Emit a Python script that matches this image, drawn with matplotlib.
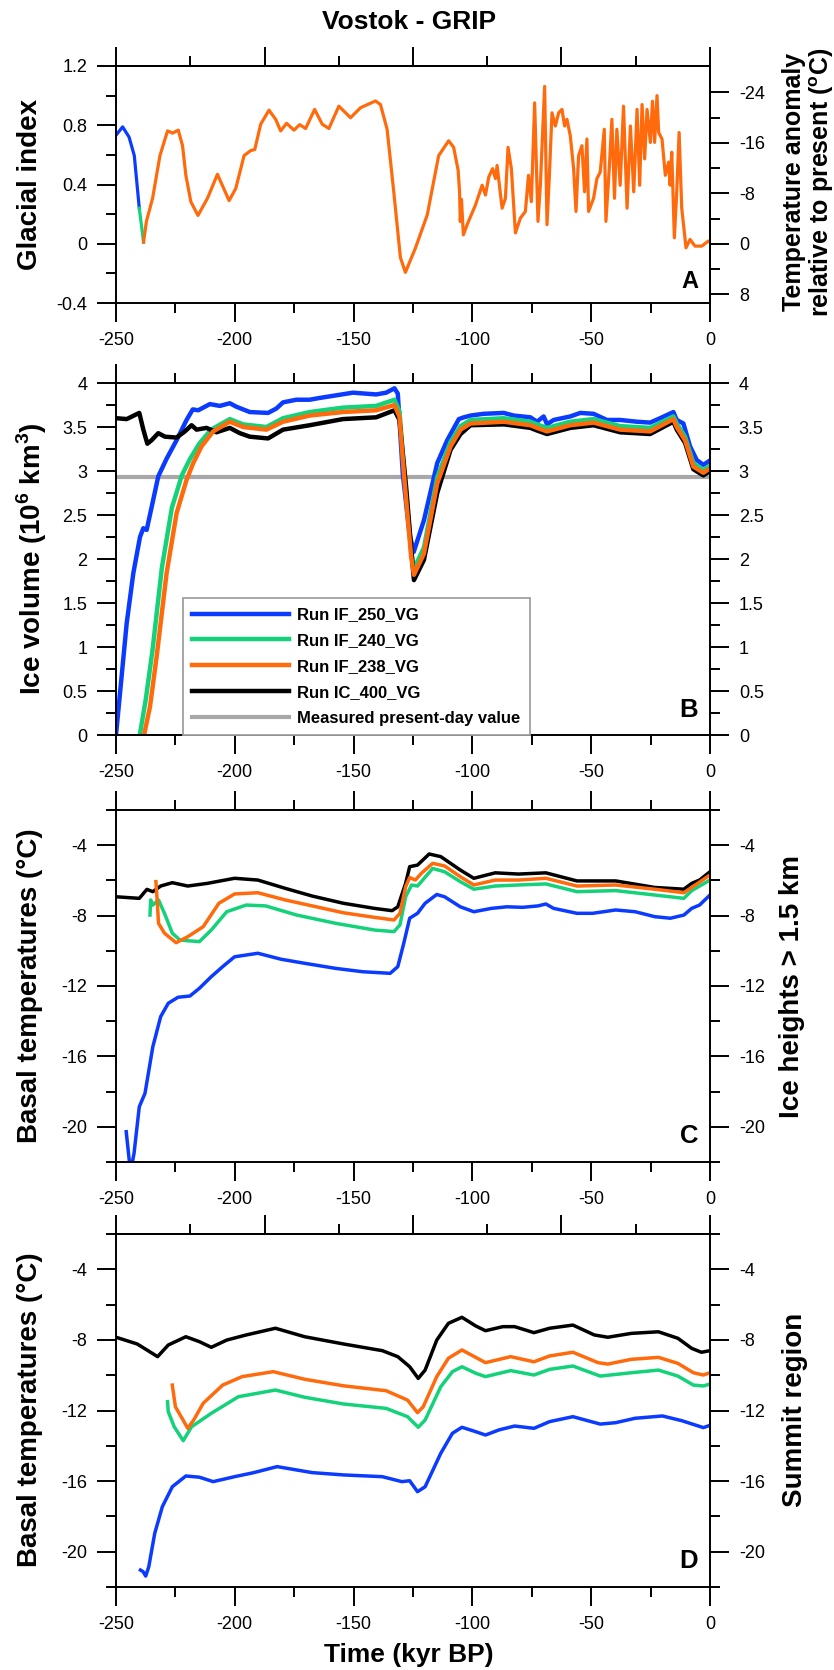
import matplotlib
matplotlib.use('Agg')
import matplotlib.pyplot as plt
import numpy as np
from matplotlib.ticker import FuncFormatter, NullFormatter

plt.rcParams['font.family'] = ['Liberation Sans', 'DejaVu Sans']
plt.rcParams['axes.unicode_minus'] = False
plt.rcParams['mathtext.fontset'] = 'custom'
plt.rcParams['mathtext.rm'] = 'Liberation Sans'
plt.rcParams['mathtext.bf'] = 'Liberation Sans:bold'

# ---------------- data ----------------
x_major = [-250, -200, -150, -100, -50, 0]
x_minor = [-225, -175, -125, -75, -25]
odd_top_major = [-250, -187.5, -125, -62.5, 0]
odd_top_minor = [-218.75, -156.25, -93.75, -31.25]

# Panel A: glacial index
A_t = [-250, -247.2, -244.5, -242.3, -240.2, -238.4, -237.2, -234.6, -231.5, -228.3, -226.2, -223.8, -222.0,
       -220.6, -218.5, -215.5, -211.5, -207.3, -202.4, -199.6, -196.1, -193.3, -191.6, -189.1, -185.6, -182.8,
       -180.7, -178.2, -175.1, -172.7, -170.2, -166.4, -163.2, -160.4, -156.2, -151.3, -147.1, -140.8, -138.7,
       -135.9, -133.1, -130.3, -128.2, -124.0, -119.0, -114.2, -110.0, -107.9, -106.0, -105.4, -105.1,
       -104.6, -103.8, -102.2, -98.7, -95.9, -94.5, -93.1, -91.5, -90.3, -89.6, -87.5, -86.1, -85.0,
       -83.6, -81.9, -79.8, -77.7, -76.4, -75.2, -73.8, -72.4, -71.4, -69.6, -68.6, -67.6, -66.5, -65.1,
       -63.7, -62.3, -61.2, -60.2, -58.8, -57.4, -56.4, -55.3, -53.9, -52.8, -51.8, -51.1, -49.0, -47.6,
       -46.2, -44.5, -43.8, -42.4, -41.3, -40.2, -39.2, -37.8, -36.4, -34.9, -33.5, -32.1, -30.7, -29.6,
       -28.6, -27.5, -26.5, -25.1, -24.2, -23.3, -22.3, -21.6, -20.2, -18.8, -17.4, -16.8, -16.1, -15.0,
       -14.0, -13.0, -11.9, -10.1, -8.4, -6.3, -3.5, -0.7, 0]
A_gi = [0.733, 0.789, 0.72, 0.595, 0.24, 0.011, 0.151, 0.307, 0.595, 0.762, 0.747, 0.767, 0.662,
        0.462, 0.284, 0.191, 0.307, 0.469, 0.291, 0.373, 0.595, 0.629, 0.636, 0.807, 0.902, 0.84,
        0.762, 0.813, 0.767, 0.804, 0.778, 0.907, 0.807, 0.778, 0.929, 0.851, 0.918, 0.964, 0.94,
        0.773, 0.351, -0.093, -0.193, -0.03, 0.195, 0.595, 0.695, 0.651, 0.496, 0.35, 0.15,
        0.30, 0.06, 0.13, 0.262, 0.395, 0.329, 0.451, 0.507, 0.44, 0.529, 0.24, 0.307, 0.651,
        0.507, 0.073, 0.173, 0.218, 0.462, 0.284, 0.951, 0.151, 0.395, 1.062, 0.129, 0.462, 0.884, 0.795,
        0.884, 0.907, 0.795, 0.84, 0.729, 0.507, 0.218, 0.595, 0.662, 0.351, 0.707, 0.218, 0.307, 0.44,
        0.484, 0.773, 0.151, 0.507, 0.84, 0.307, 0.773, 0.395, 0.929, 0.24, 0.795, 0.351, 0.907, 0.395,
        0.94, 0.573, 0.907, 0.684, 0.962, 0.684, 1.0, 0.751, 0.707, 0.462, 0.551, 0.395, 0.618, 0.04,
        0.351, 0.751, 0.24, -0.027, 0.029, -0.016, -0.016, 0.018, 0.01]
A_start_250 = -250.0
A_start_240 = -240.2
A_start_238 = -238.4
T_per_gi = -23.5

# Panel B: ice volume (10^6 km^3)
B_t_250 = [-250, -245.5, -242.7, -239.9, -238.5, -237.1, -235.0, -232.2, -228.7, -224.5, -220.3, -217.7, -215.4,
           -210.5, -206.3, -202.1, -199.3, -193.7, -186.0, -182.5, -179.7, -174.1, -168.5, -164.3, -157.3,
           -150.3, -140.5, -136.3, -132.8, -131.4, -129.3, -126.5, -124.7, -120.4, -114.8, -110.6, -105.7,
           -103.6, -100.8, -95.2, -86.8, -82.6, -75.6, -72.8, -70.0, -68.6, -65.8, -58.8, -54.6, -49.0,
           -43.4, -37.8, -30.8, -25.2, -21.0, -15.4, -14.0, -11.2, -8.4, -5.6, -2.8, 0]
B_v_250 = [0, 1.27, 1.84, 2.25, 2.35, 2.33, 2.59, 2.94, 3.14, 3.35, 3.58, 3.70, 3.69,
           3.76, 3.74, 3.77, 3.73, 3.67, 3.66, 3.71, 3.78, 3.81, 3.81, 3.83, 3.86,
           3.89, 3.87, 3.89, 3.94, 3.88, 2.97, 2.29, 2.08, 2.44, 3.09, 3.35, 3.59,
           3.61, 3.63, 3.65, 3.66, 3.63, 3.61, 3.56, 3.62, 3.53, 3.58, 3.62, 3.66, 3.65,
           3.58, 3.58, 3.56, 3.55, 3.60, 3.67, 3.58, 3.54, 3.28, 3.125, 3.07, 3.12]
B_t_240 = [-240.0, -237.5, -234.7, -230.7, -226.5, -222.3, -219.0, -215.0, -210.0, -202.1, -196.5, -186.7,
           -179.7, -168.5, -154.5, -140.5, -132.8, -130.7, -128.6, -125.8, -124.6, -120.4, -114.8, -109.2,
           -105.0, -100.8, -86.8, -75.6, -72.8, -68.6, -58.8, -49.0, -37.8, -25.2, -15.4, -14.0, -10.5,
           -7.0, -2.8, 0]
B_v_240 = [0, 0.40, 0.95, 1.90, 2.58, 2.95, 3.13, 3.31, 3.47, 3.59, 3.53, 3.50,
           3.60, 3.67, 3.72, 3.74, 3.81, 3.68, 2.97, 2.10, 1.89, 2.13, 2.93, 3.33,
           3.51, 3.58, 3.60, 3.56, 3.53, 3.49, 3.56, 3.59, 3.51, 3.49, 3.62, 3.54, 3.39,
           3.09, 3.01, 3.06]
B_t_238 = [-238.2, -235.7, -232.9, -228.7, -224.5, -220.3, -217.5, -214.0, -209.1, -202.1, -196.5, -186.7,
           -179.7, -168.5, -154.5, -140.5, -132.8, -130.7, -128.6, -125.8, -124.6, -120.4, -114.8, -109.2,
           -105.0, -100.8, -86.8, -75.6, -72.8, -68.6, -58.8, -49.0, -37.8, -25.2, -15.4, -14.0, -10.5,
           -7.0, -2.8, 0]
B_v_238 = [0, 0.32, 0.89, 1.84, 2.52, 2.90, 3.09, 3.28, 3.45, 3.56, 3.50, 3.47,
           3.56, 3.63, 3.67, 3.69, 3.75, 3.62, 2.90, 2.03, 1.82, 2.06, 2.86, 3.28,
           3.47, 3.54, 3.56, 3.52, 3.49, 3.45, 3.52, 3.55, 3.47, 3.45, 3.59, 3.50, 3.35,
           3.05, 2.98, 3.03]
B_t_400 = [-250, -245.5, -240.2, -238.5, -236.8, -235.0, -232.2, -229.4, -224.5, -221.0, -218.2, -216.1,
           -211.9, -207.7, -202.1, -197.9, -193.7, -186.0, -179.7, -168.5, -154.5, -140.5, -132.8, -130.7,
           -127.9, -125.1, -124.6, -120.4, -114.8, -109.2, -105.0, -100.8, -86.8, -75.6, -72.8, -68.6,
           -58.8, -49.0, -37.8, -25.2, -15.4, -14.0, -10.5, -7.0, -2.8, 0]
B_v_400 = [3.60, 3.59, 3.66, 3.47, 3.31, 3.35, 3.43, 3.39, 3.38, 3.45, 3.52, 3.47,
           3.49, 3.44, 3.49, 3.43, 3.39, 3.37, 3.47, 3.52, 3.59, 3.61, 3.69, 3.58,
           2.82, 1.91, 1.76, 1.99, 2.75, 3.24, 3.42, 3.52, 3.53, 3.49, 3.46, 3.42,
           3.49, 3.52, 3.44, 3.42, 3.56, 3.47, 3.32, 3.02, 2.95, 3.00]
B_measured = 2.93

# Panel C: basal temperatures, ice heights > 1.5 km
C_t_250 = [-245.7, -244.3, -243.5, -242.4, -240.2, -237.8, -234.5, -231.2, -228.0, -223.9, -218.9, -214.9,
           -209.9, -205.1, -200.1, -190.3, -180.5, -170.6, -157.5, -146.1, -134.6, -131.4, -128.9, -126.4,
           -123.1, -119.9, -115.0, -111.7, -105.1, -99.4, -92.0, -85.5, -78.9, -72.4, -69.1, -65.8, -56.0,
           -49.4, -39.7, -31.5, -23.3, -16.7, -11.0, -7.7, -4.4, 0]
C_v_250 = [-20.28, -22.06, -22.3, -21.5, -18.86, -18.1, -15.45, -13.74, -12.98, -12.64, -12.57, -12.13,
           -11.47, -10.9, -10.34, -10.14, -10.48, -10.71, -11.0, -11.19, -11.28, -10.9, -9.58, -8.15,
           -7.87, -7.3, -6.8, -6.93, -7.5, -7.78, -7.59, -7.5, -7.53, -7.45, -7.34, -7.59, -7.87,
           -7.87, -7.68, -7.78, -8.06, -8.15, -7.97, -7.59, -7.4, -6.83]
C_t_240 = [-235.7, -235.4, -234.5, -232.1, -229.6, -226.3, -223.1, -214.9, -209.9, -203.4, -195.2, -187.0,
           -173.9, -157.5, -141.2, -133.0, -130.5, -128.1, -125.6, -123.1, -116.7, -111.7, -105.1, -99.4,
           -90.4, -80.6, -69.1, -56.0, -39.7, -23.3, -11.0, -7.7, 0]
C_v_240 = [-7.97, -7.11, -7.4, -7.11, -7.87, -9.0, -9.39, -9.48, -8.82, -7.78, -7.4, -7.45,
           -7.97, -8.44, -8.82, -8.91, -8.53, -6.93, -6.26, -6.32, -5.32, -5.51, -6.07, -6.5,
           -6.32, -6.26, -6.2, -6.64, -6.58, -6.83, -7.02, -6.58, -5.98]
C_t_238 = [-233.2, -232.5, -232.1, -229.6, -224.7, -219.8, -213.3, -206.7, -200.1, -190.3, -178.8, -167.4,
           -154.3, -141.2, -133.0, -130.5, -128.1, -126.4, -124.0, -121.5, -116.7, -111.7, -105.1, -99.4,
           -90.4, -80.6, -69.1, -56.0, -39.7, -23.3, -11.0, -7.7, 0]
C_v_238 = [-6.07, -7.5, -8.44, -9.0, -9.54, -9.2, -8.63, -7.3, -6.77, -6.7, -7.11, -7.45,
           -7.84, -8.1, -8.25, -7.87, -6.36, -5.84, -5.98, -5.6, -5.03, -5.18, -5.79, -6.26,
           -5.98, -5.98, -5.88, -6.32, -6.26, -6.5, -6.7, -6.4, -5.69]
C_t_400 = [-250, -240.2, -237.0, -234.5, -231.2, -226.3, -219.8, -211.6, -200.1, -190.3, -178.8, -167.4,
           -154.3, -141.2, -133.8, -131.4, -128.1, -126.4, -123.1, -118.2, -113.3, -105.1, -99.4, -90.4,
           -80.6, -69.1, -56.0, -39.7, -23.3, -11.0, -7.7, -4.4, 0]
C_v_400 = [-6.93, -7.02, -6.51, -6.64, -6.32, -6.13, -6.32, -6.17, -5.88, -5.98, -6.45, -6.89,
           -7.3, -7.59, -7.72, -7.5, -6.17, -5.22, -5.13, -4.5, -4.65, -5.41, -5.88, -5.57,
           -5.64, -5.57, -6.03, -6.03, -6.4, -6.5, -6.17, -5.98, -5.51]

# Panel D: basal temperatures, summit region
D_t_250 = [-239.7, -238.6, -237.5, -236.2, -233.7, -230.5, -226.3, -220.6, -214.9, -209.1, -200.1, -192.0,
           -182.2, -167.4, -154.3, -137.9, -129.7, -126.4, -123.1, -119.9, -113.3, -108.4, -104.4, -98.6,
           -94.5, -88.8, -82.2, -74.1, -67.5, -57.7, -46.2, -39.7, -31.5, -20.0, -11.8, -2.8, 0]
D_v_250 = [-21.04, -21.13, -21.38, -20.85, -18.96, -17.45, -16.32, -15.71, -15.78, -16.03, -15.75, -15.52,
           -15.18, -15.52, -15.65, -15.75, -16.03, -15.98, -16.6, -16.32, -14.42, -13.29, -12.95, -13.2,
           -13.39, -13.1, -12.88, -13.01, -12.63, -12.35, -12.77, -12.69, -12.44, -12.31, -12.58, -12.97, -12.84]
D_t_240 = [-228.3, -228.0, -225.5, -221.7, -218.2, -209.9, -198.5, -182.9, -170.6, -154.3, -136.3, -127.3,
           -122.8, -119.9, -113.3, -108.4, -104.4, -98.6, -94.5, -83.9, -74.1, -67.5, -57.7, -46.2,
           -33.1, -21.7, -13.5, -7.0, -2.8, 0]
D_v_240 = [-11.5, -12.07, -12.92, -13.71, -12.92, -12.16, -11.22, -10.84, -11.25, -11.63, -11.88, -12.35,
           -12.95, -12.54, -10.65, -9.8, -9.52, -9.89, -10.08, -9.74, -9.99, -9.67, -9.48, -10.05,
           -9.86, -9.71, -10.05, -10.56, -10.61, -10.5]
D_t_238 = [-226.3, -225.0, -222.2, -219.8, -217.3, -213.3, -205.1, -196.9, -183.8, -170.6, -154.3, -136.3,
           -127.3, -123.1, -120.7, -115.0, -110.1, -104.4, -98.6, -94.5, -83.9, -74.1, -67.5, -57.7,
           -47.1, -43.0, -33.1, -21.7, -13.5, -7.0, -2.8, 0]
D_v_238 = [-10.56, -11.79, -12.44, -13.01, -12.54, -11.59, -10.56, -10.08, -9.8, -10.23, -10.6, -10.88,
           -11.41, -12.12, -11.79, -10.08, -9.04, -8.57, -8.99, -9.29, -8.95, -9.24, -8.91, -8.7,
           -9.29, -9.37, -9.1, -8.99, -9.33, -9.86, -9.99, -9.86]
D_t_400 = [-250, -241.1, -237.0, -232.5, -228.0, -220.6, -214.9, -209.9, -203.4, -195.2, -182.9, -170.6,
           -154.3, -137.9, -131.4, -126.4, -122.8, -119.9, -115.0, -110.1, -104.4, -98.6, -94.5, -87.2,
           -82.2, -74.1, -67.5, -57.7, -48.7, -43.0, -33.1, -21.7, -13.5, -7.7, -3.6, 0]
D_v_400 = [-7.85, -8.23, -8.57, -8.95, -8.29, -7.82, -8.1, -8.42, -8.01, -7.72, -7.34, -7.82,
           -8.23, -8.61, -8.95, -9.52, -10.18, -9.71, -8.01, -7.06, -6.72, -7.21, -7.48, -7.25,
           -7.25, -7.59, -7.34, -7.16, -7.72, -7.85, -7.63, -7.54, -7.91, -8.48, -8.7, -8.61]

labels = ['Run IF_250_VG', 'Run IF_240_VG', 'Run IF_238_VG', 'Run IC_400_VG', 'Measured present-day value']

# ---------------- style ----------------
BLUE = '#0B3BFF'
GREEN = '#14D27A'
ORANGE = '#FF6A0D'
BLACK = '#000000'
GRAY = '#A8A8A8'

W, H = 834, 1670
fig = plt.figure(figsize=(W / 100, H / 100), dpi=100)
left = 116 / W
width = 594 / W

def add(top, bottom):
    return fig.add_axes([left, 1 - bottom / H, width, (bottom - top) / H])

axA = add(66, 303)
axB = add(383, 735)
axC = add(810, 1162)
axD = add(1234, 1587)

fmt = FuncFormatter(lambda v, p: '%g' % v)
MAJ, MIN, TW = 13.7, 7.5, 1.4

def style(ax, top_same=True, right_same=True):
    for s in ax.spines.values():
        s.set_linewidth(TW)
    ax.set_xlim(-250, 0)
    ax.set_xticks(x_major)
    ax.set_xticks(x_minor, minor=True)
    ax.xaxis.set_major_formatter(fmt)
    ax.yaxis.set_major_formatter(fmt)
    ax.tick_params(which='both', direction='out', width=TW, labelsize=13, pad=7,
                   top=top_same, right=right_same, labelright=right_same, labeltop=False)
    ax.tick_params(which='major', length=MAJ)
    ax.tick_params(which='minor', length=MIN)

def odd_top(ax):
    sec = ax.secondary_xaxis('top')
    sec.set_xticks(odd_top_major)
    sec.set_xticks(odd_top_minor, minor=True)
    sec.xaxis.set_major_formatter(NullFormatter())
    sec.tick_params(which='both', direction='out', width=TW)
    sec.tick_params(which='major', length=MAJ)
    sec.tick_params(which='minor', length=MIN)
    sec.spines['top'].set_linewidth(TW)

# ---------------- Panel A ----------------
t = np.array(A_t); g = np.array(A_gi)
i240 = int(np.argmin(np.abs(t - A_start_240)))
i238 = int(np.argmin(np.abs(t - A_start_238)))
axA.plot(t[:i240 + 1], g[:i240 + 1], color=BLUE, lw=2.3, solid_joinstyle='round')
axA.plot(t[i240:i238 + 1], g[i240:i238 + 1], color=GREEN, lw=2.3)
axA.plot(t[i238:], g[i238:], color=ORANGE, lw=2.3, solid_joinstyle='round')
style(axA, top_same=False, right_same=False)
axA.set_ylim(-0.4, 1.2)
axA.set_yticks([-0.4, 0, 0.4, 0.8, 1.2])
axA.set_yticks([-0.2, 0.2, 0.6, 1.0], minor=True)
odd_top(axA)
secy = axA.secondary_yaxis('right', functions=(lambda v: T_per_gi * v, lambda v: v / T_per_gi))
secy.set_yticks([-24, -16, -8, 0, 8])
secy.set_yticks([-20, -12, -4, 4], minor=True)
secy.yaxis.set_major_formatter(fmt)
secy.tick_params(which='both', direction='out', width=TW, labelsize=13, pad=7)
secy.tick_params(which='major', length=MAJ)
secy.tick_params(which='minor', length=MIN)
secy.spines['right'].set_linewidth(TW)

# ---------------- Panel B ----------------
lb, = axB.plot(B_t_250, B_v_250, color=BLUE, lw=3.2)
lg, = axB.plot(B_t_240, B_v_240, color=GREEN, lw=3.2)
lk, = axB.plot(B_t_400, B_v_400, color=BLACK, lw=3.2)
lo, = axB.plot(B_t_238, B_v_238, color=ORANGE, lw=3.2)
lm = axB.axhline(B_measured, color=GRAY, lw=3.0, zorder=1)
style(axB)
axB.set_ylim(0, 4)
axB.set_yticks(np.arange(0, 4.01, 0.5))
axB.set_yticks(np.arange(0.25, 4, 0.5), minor=True)
leg = axB.legend([lb, lg, lo, lk, lm], labels, loc='lower left',
                 bbox_to_anchor=((183 - 116) / 594, 0.0), borderaxespad=0,
                 fancybox=False, framealpha=1, edgecolor='#A0A0A0',
                 prop={'weight': 'bold', 'size': 12}, handlelength=5.8,
                 handletextpad=0.5, labelspacing=0.65, borderpad=0.55)
leg.get_frame().set_linewidth(1.3)

# ---------------- Panel C ----------------
axC.plot(C_t_400, C_v_400, color=BLACK, lw=2.5)
axC.plot(C_t_250, C_v_250, color=BLUE, lw=2.5)
axC.plot(C_t_240, C_v_240, color=GREEN, lw=2.5)
axC.plot(C_t_238, C_v_238, color=ORANGE, lw=2.5)
style(axC)
axC.set_ylim(-22, -2)
axC.set_yticks([-20, -16, -12, -8, -4])
axC.set_yticks([-22, -18, -14, -10, -6, -2], minor=True)

# ---------------- Panel D ----------------
axD.plot(D_t_400, D_v_400, color=BLACK, lw=2.5)
axD.plot(D_t_250, D_v_250, color=BLUE, lw=2.5)
axD.plot(D_t_240, D_v_240, color=GREEN, lw=2.5)
axD.plot(D_t_238, D_v_238, color=ORANGE, lw=2.5)
style(axD, top_same=False, right_same=True)
axD.set_ylim(-22, -2)
axD.set_yticks([-20, -16, -12, -8, -4])
axD.set_yticks([-22, -18, -14, -10, -6, -2], minor=True)
odd_top(axD)

# panel letters
for ax, letter, yb, fs in [(axA, 'A', 0.063, 17), (axB, 'B', 0.052, 18.5),
                           (axC, 'C', 0.054, 18.5), (axD, 'D', 0.054, 18.5)]:
    ax.text(0.98, yb, letter, transform=ax.transAxes, ha='right', va='baseline',
            fontsize=fs, fontweight='bold')

# ---------------- texts ----------------
def fy(py):
    return 1 - py / H

fig.text(0.49, fy(22), 'Vostok - GRIP', ha='center', va='center', fontsize=19, fontweight='bold')
fig.text(0.49, fy(1655), 'Time (kyr BP)', ha='center', va='center', fontsize=19, fontweight='bold')
fig.text(30 / W, fy(184.5), 'Glacial index', rotation=90, ha='center', va='center',
         fontsize=20, fontweight='bold')
fig.text(32 / W, fy(559), r'Ice volume (10$^{\mathbf{6}}$ km$^{\mathbf{3}}$)', rotation=90,
         ha='center', va='center', fontsize=20, fontweight='bold')
fig.text(30 / W, fy(986), 'Basal temperatures (°C)', rotation=90, ha='center', va='center',
         fontsize=20, fontweight='bold')
fig.text(30 / W, fy(1410), 'Basal temperatures (°C)', rotation=90, ha='center', va='center',
         fontsize=20, fontweight='bold')
fig.text(809 / W, fy(182), 'Temperature anomaly\nrelative to present ($^{\\mathbf{o}}$C)', rotation=90,
         ha='center', va='center', fontsize=18, fontweight='bold', linespacing=1.05,
         multialignment='center')
fig.text(792 / W, fy(986), 'Ice heights > 1.5 km', rotation=90, ha='center', va='center',
         fontsize=20, fontweight='bold')
fig.text(795 / W, fy(1410), 'Summit region', rotation=90, ha='center', va='center',
         fontsize=20, fontweight='bold')

fig.savefig('out.png', dpi=100)
